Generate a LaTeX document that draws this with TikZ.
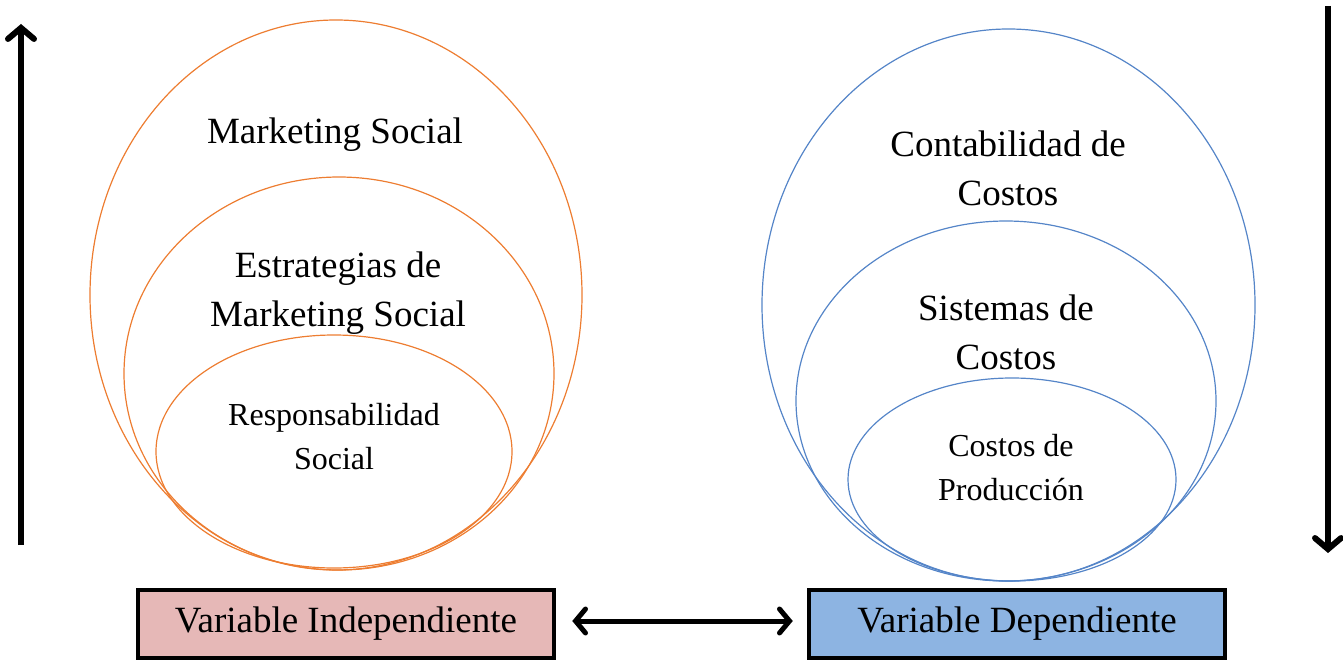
\documentclass[tikz,border=0pt]{standalone}
\usepackage{fontspec}
\setmainfont{Liberation Serif}
\usetikzlibrary{arrows.meta}
\definecolor{orng}{HTML}{ED7D31}
\definecolor{blu}{HTML}{5585C8}
\definecolor{pinkfill}{HTML}{E6B8B7}
\definecolor{bluefill}{HTML}{8DB4E2}
\tikzset{
  lring/.style={draw=orng,line width=1.2bp},
  rring/.style={draw=blu,line width=1.2bp},
  bigtxt/.style={font=\fontsize{37bp}{49bp}\selectfont,align=center,inner sep=0pt},
  smalltxt/.style={font=\fontsize{32bp}{44bp}\selectfont,align=center,inner sep=0pt},
  varbox/.style={draw=black,line width=4.5bp,minimum width=416bp,minimum height=68bp,inner sep=0pt,font=\fontsize{37bp}{44bp}\selectfont},
  bigarrow/.style={line width=6bp,-{Straight Barb[length=11bp,width=26bp,line cap=round]}},
}
\begin{document}
\begin{tikzpicture}[x=1bp,y=-1bp]
\useasboundingbox (0,0) rectangle (1343,660);
% left ellipses
\draw[lring] (336,295) ellipse [x radius=246, y radius=275];
\draw[lring] (339,373.5) ellipse [x radius=215, y radius=196.5];
\draw[lring] (334,451.5) ellipse [x radius=178, y radius=116.5];
% right ellipses
\draw[rring] (1008.5,305) ellipse [x radius=246.5, y radius=276];
\draw[rring] (1006,401) ellipse [x radius=210, y radius=180];
\draw[rring] (1012,479.5) ellipse [x radius=164, y radius=101.5];
% texts
\node[bigtxt] (ms) at (335,135) {Marketing Social};
\node[bigtxt] (ems) at (338,293) {Estrategias de\\Marketing Social};
\node[smalltxt] (rs) at (334,437) {Responsabilidad\\Social};
\node[bigtxt] (cc) at (1008,168) {Contabilidad de\\Costos};
\node[bigtxt] (sc) at (1006,332) {Sistemas de\\Costos};
\node[smalltxt] (cp) at (1011,468) {Costos de\\Producción};
% boxes
\node[varbox,fill=pinkfill] (vi) at (346,624) {Variable Independiente};
\node[varbox,fill=bluefill] (vd) at (1017,624) {Variable Dependiente};
\draw[line width=5bp,{Straight Barb[length=10bp,width=24bp,line cap=round]}-{Straight Barb[length=10bp,width=24bp,line cap=round]}]
  ([xshift=16bp,yshift=3bp]vi.east) -- ([xshift=-14bp,yshift=3bp]vd.west);
% vertical arrows
\coordinate (la1) at (21,545);
\coordinate (la2) at (21,24);
\coordinate (ra1) at (1328,6);
\coordinate (ra2) at (1328,553);
\draw[bigarrow] (la1) -- (la2);
\draw[bigarrow] (ra1) -- (ra2);
\end{tikzpicture}
\end{document}
